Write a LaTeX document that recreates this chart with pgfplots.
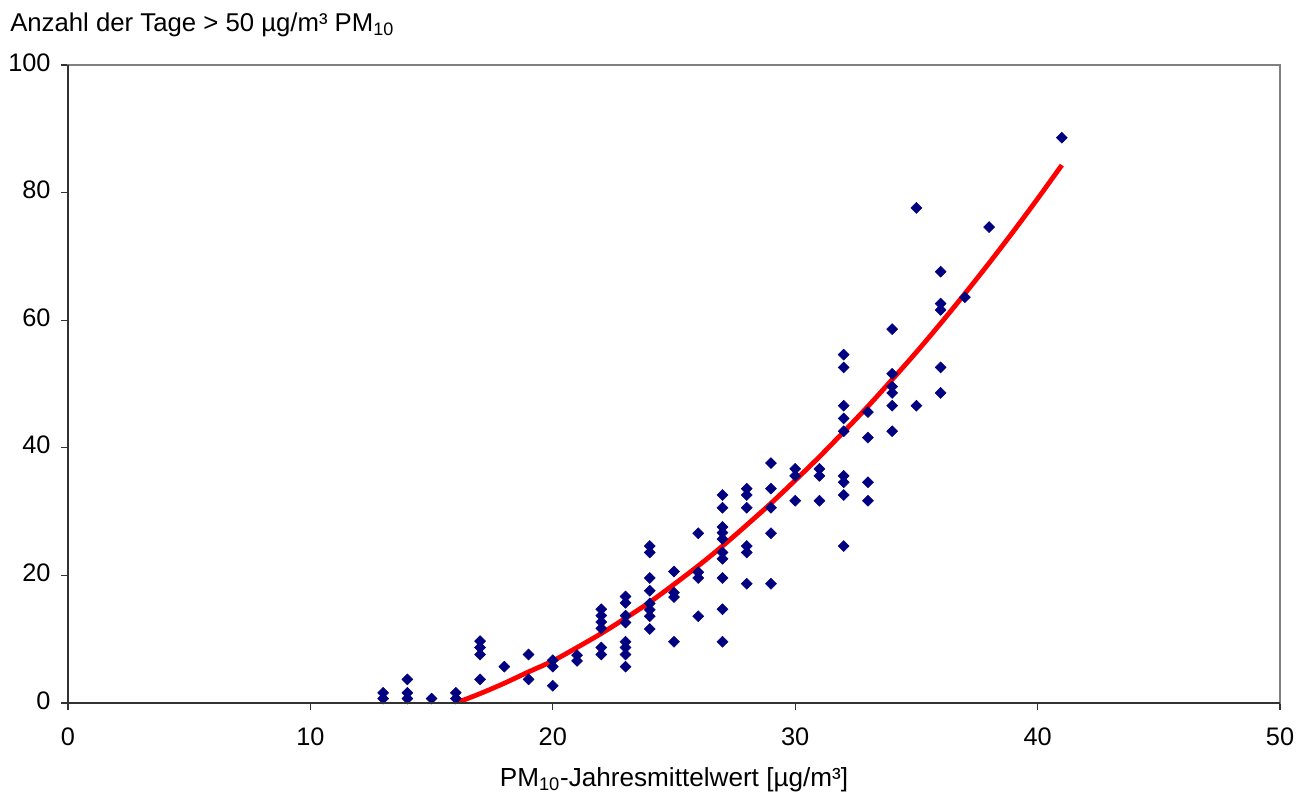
\documentclass[border=0pt]{standalone}
\usepackage{fontspec}
\setmainfont{Liberation Sans}
\usepackage{pgfplots}
\pgfplotsset{compat=1.18}
\definecolor{navyblue}{RGB}{0,0,128}
\definecolor{framegray}{RGB}{128,128,128}
\definecolor{axisdark}{RGB}{50,50,50}
\begin{document}
\begin{tikzpicture}
\begin{axis}[
  scale only axis,
  width=909pt, height=478.5pt,
  xmin=0, xmax=50, ymin=0, ymax=100,
  xtick={0,10,...,50}, ytick={0,20,...,100},
  xtick pos=bottom, ytick pos=left,
  tick align=outside,
  major tick length=5.25pt,
  tick style={axisdark, line width=0.8pt},
  axis line style={framegray, line width=1.2pt},
  /pgf/number format/assume math mode=true,
  ticklabel style={font=\fontsize{19}{21}\selectfont},
  xticklabel style={yshift=-10pt},
  yticklabel style={xshift=-4.3pt, yshift=2pt},
  xlabel={PM\textsubscript{10}-Jahresmittelwert [µg/m³]},
  xlabel style={at={(axis description cs:0.5,0)}, anchor=base, yshift=-62.25pt, font=\fontsize{19.6}{22}\selectfont},
]
\addplot[only marks, mark=square*, mark size=2.9pt, color=navyblue,
  every mark/.append style={rotate=45}] coordinates {
(13,1.6) (13,0.7)
(14,3.7) (14,1.6) (14,0.7)
(15,0.7)
(16,1.6) (16,0.7)
(17,9.7) (17,8.7) (17,7.6) (17,3.7)
(18,5.7)
(19,7.6) (19,3.7)
(20,6.7) (20,5.7) (20,2.7)
(21,7.5) (21,6.6)
(22,14.7) (22,13.7) (22,12.7) (22,11.7) (22,8.7) (22,7.6)
(23,16.7) (23,15.7) (23,13.7) (23,12.6) (23,9.6) (23,8.7) (23,7.6) (23,5.7)
(24,24.6) (24,23.6) (24,19.6) (24,17.6) (24,15.6) (24,14.6) (24,13.6) (24,11.6)
(25,20.6) (25,17.3) (25,16.6) (25,9.6)
(26,26.6) (26,20.5) (26,19.6) (26,13.6)
(27,32.6) (27,30.6) (27,27.6) (27,26.7) (27,25.7) (27,23.6) (27,22.6) (27,19.6) (27,14.7) (27,9.6)
(28,33.6) (28,32.6) (28,30.6) (28,24.6) (28,23.6) (28,18.7)
(29,37.6) (29,33.6) (29,30.6) (29,26.6) (29,18.7)
(30,36.7) (30,35.6) (30,31.7)
(31,36.7) (31,35.6) (31,31.7)
(32,54.6) (32,52.6) (32,46.6) (32,44.6) (32,42.6) (32,35.6) (32,34.6) (32,32.6) (32,24.6)
(33,45.6) (33,41.6) (33,34.6) (33,31.7)
(34,58.6) (34,51.6) (34,49.6) (34,48.6) (34,46.6) (34,42.6)
(35,77.6) (35,46.6)
(36,67.6) (36,62.6) (36,61.6) (36,52.6) (36,48.6)
(37,63.6)
(38,74.6)
(41,88.6)
};
\addplot[red, line width=3.6pt, smooth, no markers] coordinates {
(16,0) (17,1.47) (18,3.10) (19,4.88) (20,6.6) (21,8.7) (22,10.9) (23,13.3)
(24,15.8) (25,18.6) (26,21.5) (27,24.6) (28,27.9) (29,31.3) (30,34.9)
(31,38.6) (32,42.5) (33,46.5) (34,50.7) (35,55.0) (36,59.5) (37,64.16)
(38,68.96) (39,73.92) (40,79.04) (41,84.31)
};
\addplot[red, line width=1.5pt, no markers] coordinates {(0,0) (0.25,0)};
\end{axis}
\draw[axisdark, line width=0.8pt] (current axis.north west) -- (current axis.south west) -- (current axis.south east);
\node[anchor=base west, inner sep=0pt, font=\fontsize{19.3}{22}\selectfont]
  at ([xshift=-43.5pt, yshift=25pt]current axis.north west)
  {Anzahl der Tage > 50 µg/m³ PM\textsubscript{10}};
\pgfresetboundingbox
\path ([xshift=-51pt, yshift=-67.5pt]current axis.south west) rectangle ([xshift=21pt, yshift=48.75pt]current axis.north east);
\end{tikzpicture}
\end{document}
